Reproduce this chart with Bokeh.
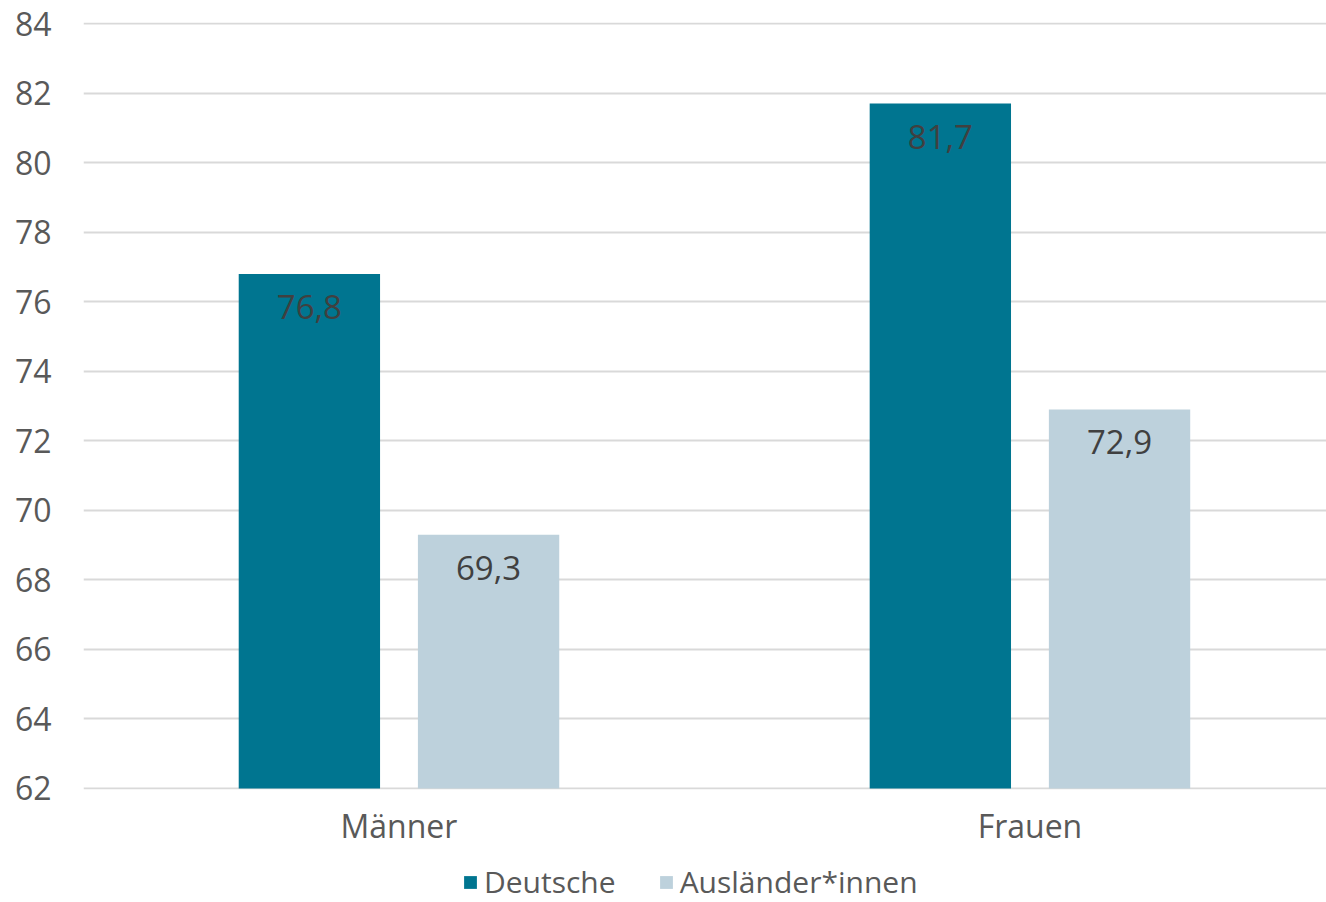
from bokeh.plotting import figure
from bokeh.layouts import column
from bokeh.models import ColumnDataSource, FixedTicker, Legend, LegendItem, LabelSet, Range1d
from bokeh.core.properties import value
from bokeh.embed import file_html
from bokeh.resources import INLINE

categories = ["Männer", "Frauen"]
deutsche = [76.8, 81.7]
auslaender = [69.3, 72.9]
series_names = ["Deutsche", "Ausländer*innen"]
y_ticks = list(range(62, 85, 2))

FONT = "Open Sans"
C_DE = "#007590"
C_AU = "#BDD1DC"

idx = [i + 0.5 for i in range(len(categories))]
off = 0.142
bw = 0.224

src_de = ColumnDataSource(dict(x=[i - off for i in idx], top=deutsche,
                               lab=[f"{v:.1f}".replace(".", ",") for v in deutsche]))
src_au = ColumnDataSource(dict(x=[i + off for i in idx], top=auslaender,
                               lab=[f"{v:.1f}".replace(".", ",") for v in auslaender]))

MAIN_H = 850
p = figure(width=1326, height=MAIN_H, output_backend="svg", toolbar_location=None,
           x_range=Range1d(0, 1.97), y_range=Range1d(61.97, 84.03),
           min_border_left=83, min_border_right=0, min_border_top=22,
           min_border_bottom=MAIN_H - 789)
p.outline_line_color = None
p.background_fill_color = "white"
p.border_fill_color = "white"

p.xgrid.grid_line_color = None
p.ygrid.ticker = FixedTicker(ticks=y_ticks)
p.ygrid.grid_line_color = "#D9D9D9"
p.ygrid.grid_line_width = 2

r_de = p.vbar(x="x", top="top", bottom=62, width=bw, source=src_de, fill_color=C_DE, line_color=None)
r_au = p.vbar(x="x", top="top", bottom=62, width=bw, source=src_au, fill_color=C_AU, line_color=None)

for src in (src_de, src_au):
    ls = LabelSet(x="x", y="top", text="lab", source=src, y_offset=-33,
                  text_align="center", text_baseline="middle",
                  text_font=value(FONT), text_font_size="33px", text_color="#404040")
    p.add_layout(ls)

p.yaxis.ticker = FixedTicker(ticks=y_ticks)
p.yaxis.axis_line_color = None
p.yaxis.major_tick_line_color = None
p.yaxis.minor_tick_line_color = None
p.yaxis.major_label_standoff = 26
p.yaxis.major_label_text_font = FONT
p.yaxis.major_label_text_font_size = "32px"
p.yaxis.major_label_text_color = "#595959"

p.xaxis.ticker = FixedTicker(ticks=idx)
p.xaxis.major_label_overrides = {v: c for v, c in zip(idx, categories)}
p.xaxis.axis_line_color = None
p.xaxis.major_tick_line_color = None
p.xaxis.minor_tick_line_color = None
p.xaxis.major_label_standoff = 8
p.xaxis.major_label_text_font = FONT
p.xaxis.major_label_text_font_size = "32px"
p.xaxis.major_label_text_color = "#595959"

# legend strip below the chart
LEG_H = 902 - MAIN_H
q = figure(width=1326, height=LEG_H, output_backend="svg", toolbar_location=None,
           x_range=Range1d(0, 1), y_range=Range1d(0, 1),
           min_border_left=83, min_border_right=0, min_border_top=0, min_border_bottom=0)
q.axis.visible = False
q.grid.visible = False
q.outline_line_color = None
q.border_fill_color = "white"
q.background_fill_color = "white"
d_de = q.vbar(x=[10], top=[1], width=0.1, fill_color=C_DE, line_color=None)
d_au = q.vbar(x=[10], top=[1], width=0.1, fill_color=C_AU, line_color=None)
legend = Legend(items=[LegendItem(label=series_names[0], renderers=[d_de]),
                       LegendItem(label=series_names[1], renderers=[d_au])],
                orientation="horizontal", location=(462 - 83, 0),
                label_text_font=FONT, label_text_font_size="30px", label_text_color="#595959",
                glyph_width=16, glyph_height=16, label_standoff=6, spacing=42,
                border_line_color=None, background_fill_alpha=0,
                padding=0, margin=0)
q.add_layout(legend, "center")

layout = column(p, q, spacing=0)
open("out.html", "w").write(file_html(layout, INLINE))
